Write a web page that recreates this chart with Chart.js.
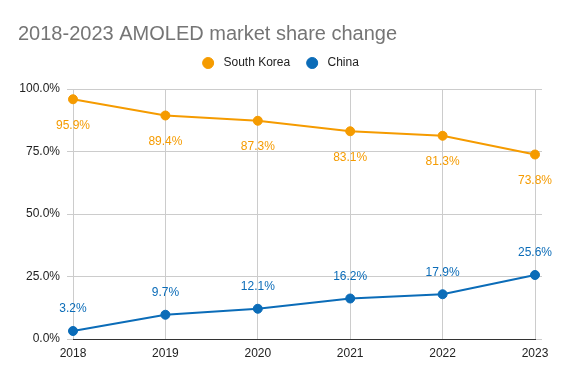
<!DOCTYPE html>
<html>
<head>
<meta charset="utf-8">
<script src="https://cdn.jsdelivr.net/npm/chart.js@4"></script>
<style>
  html, body { margin: 0; padding: 0; background: #fff; }
  #wrap { width: 561px; height: 378px; }
</style>
</head>
<body>
<div id="wrap"><canvas id="chart" width="561" height="378"></canvas></div>
<script>
const years = ["2018", "2019", "2020", "2021", "2022", "2023"];
const southKorea = [95.9, 89.4, 87.3, 83.1, 81.3, 73.8];
const china = [3.2, 9.7, 12.1, 16.2, 17.9, 25.6];
const yTicks = [0, 25, 50, 75, 100];

const orange = "#f59b00";
const blue = "#0b6cb8";
const font = "'Liberation Sans', Arial, sans-serif";

// title drawn by hand so it can sit at the left edge
const titlePlugin = {
    id: "sheetTitle",
    beforeLayout(chart) {
        // give the legend a bit more room underneath
        const legend = chart.legend;
        if (legend && !legend._padded) {
            const fit = legend.fit;
            legend.fit = function () {
                fit.call(this);
                this.height += 10;
            };
            legend._padded = true;
        }
    },
    afterDraw(chart) {
        const ctx = chart.ctx;
        ctx.save();
        ctx.font = "20px " + font;
        ctx.fillStyle = "#757575";
        ctx.textBaseline = "alphabetic";
        ctx.fillText("2018-2023 AMOLED market share change", 18, 40);
        ctx.restore();
    }
};

// point value labels: below for the upper series, above for the lower one
const valueLabels = {
    id: "valueLabels",
    afterDatasetsDraw(chart) {
        const ctx = chart.ctx;
        ctx.save();
        ctx.font = "12px " + font;
        ctx.textAlign = "center";
        ctx.textBaseline = "middle";
        chart.data.datasets.forEach((ds, i) => {
            const meta = chart.getDatasetMeta(i);
            ctx.fillStyle = ds.borderColor;
            meta.data.forEach((pt, j) => {
                const dy = i === 0 ? 26 : -22;
                ctx.fillText(ds.data[j].toFixed(1) + "%", pt.x, pt.y + dy);
            });
        });
        ctx.restore();
    }
};

const tickFont = { family: font, size: 12 };

new Chart(document.getElementById("chart"), {
    type: "line",
    data: {
        labels: years,
        datasets: [
            {
                label: "South Korea",
                data: southKorea,
                borderColor: orange,
                backgroundColor: orange,
                borderWidth: 2,
                pointRadius: 4.5,
                pointBorderWidth: 1,
                pointHoverRadius: 4.5,
                tension: 0
            },
            {
                label: "China",
                data: china,
                borderColor: blue,
                backgroundColor: blue,
                borderWidth: 2,
                pointRadius: 4.5,
                pointBorderWidth: 1,
                pointHoverRadius: 4.5,
                tension: 0
            }
        ]
    },
    options: {
        responsive: false,
        animation: false,
        layout: {
            padding: { top: 41, right: 0, bottom: 0, left: 0 }
        },
        plugins: {
            title: { display: false },
            tooltip: { enabled: false },
            legend: {
                position: "top",
                labels: {
                    usePointStyle: true,
                    pointStyle: "circle",
                    boxWidth: 12,
                    boxHeight: 7.8,
                    color: "#222",
                    font: tickFont,
                    padding: 16,
                    generateLabels(chart) {
                        const items = Chart.defaults.plugins.legend.labels.generateLabels(chart);
                        items.forEach(it => { it.text = " " + it.text; });
                        return items;
                    }
                }
            }
        },
        scales: {
            x: {
                offset: false,
                grid: { color: "#cccccc", drawTicks: false },
                border: { color: "#333333", width: 1 },
                ticks: {
                    color: "#222",
                    font: tickFont,
                    padding: 7,
                    maxRotation: 0
                },
                afterFit(scale) { scale.height = 39; }
            },
            y: {
                min: 0,
                max: 100,
                afterBuildTicks(scale) {
                    scale.ticks = yTicks.map(v => ({ value: v }));
                },
                grid: { color: "#cccccc", tickLength: 6 },
                border: { display: false },
                ticks: {
                    color: "#222",
                    font: tickFont,
                    padding: 7,
                    callback: v => v.toFixed(1) + "%"
                },
                afterFit(scale) { scale.width = 73; }
            },
            // empty right axis: keeps the plot narrower and extends the grid a little
            y2: {
                position: "right",
                min: 0,
                max: 100,
                afterBuildTicks(scale) {
                    scale.ticks = yTicks.map(v => ({ value: v }));
                },
                grid: { color: "#cccccc", drawOnChartArea: false, tickLength: 7 },
                border: { display: false },
                ticks: { display: false },
                afterFit(scale) { scale.width = 26; }
            }
        }
    },
    plugins: [titlePlugin, valueLabels]
});
</script>
</body>
</html>
